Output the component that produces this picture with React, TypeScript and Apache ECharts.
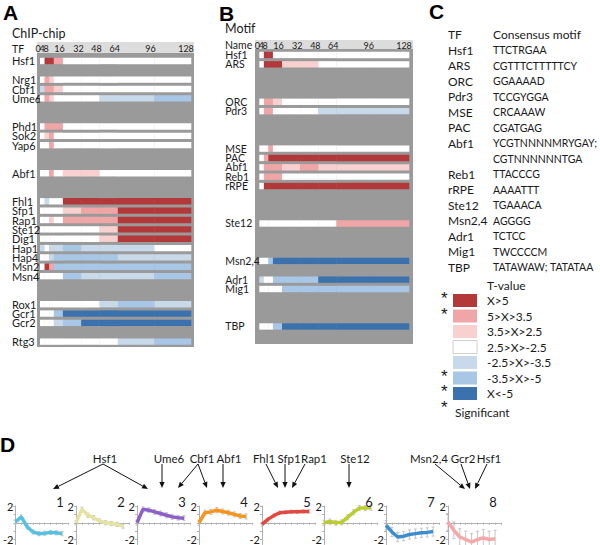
import React, { useEffect, useRef } from 'react';
import * as echarts from 'echarts';

// ---------- DATA ----------
const timePoints = [0, 4, 8, 16, 32, 48, 64, 96, 128];
const firstEdge = -4;

// Panel A (ChIP-chip) rows; '' marks an empty row
const chipRows = ['Hsf1', '', 'Nrg1', 'Cbf1', 'Ume6', '', '', 'Phd1', 'Sok2', 'Yap6', '', '', 'Abf1', '', '',
  'Fhl1', 'Sfp1', 'Rap1', 'Ste12', 'Dig1', 'Hap1', 'Hap4', 'Msn2', 'Msn4', '', '', 'Rox1', 'Gcr1', 'Gcr2', '', 'Rtg3'];
// T-value class per time point (3: X>5 ... -3: X<-5), in order of the named rows
const chipLevels = [
  [0, 3, 3, 2, 0, 0, 0, 0, 0],
  [0, 2, 1, 0, 0, 0, 0, 0, 0],
  [-1, 2, 2, 1, 0, 0, 0, 0, 0],
  [0, 2, 1, 0, 0, 0, -1, -1, -2],
  [0, 2, 2, 2, 0, 0, 0, 0, 0],
  [0, 1, 2, 0, 0, 0, 0, 0, 0],
  [0, 0, 2, 0, 0, 0, 0, 0, 0],
  [0, 0, 2, 0, 1, 1, 0, 0, 0],
  [0, -1, 0, 0, 3, 3, 3, 3, 3],
  [0, 0, 0, 0, 1, 2, 2, 3, 3],
  [0, 0, 1, 0, 2, 2, 2, 3, 3],
  [0, 0, 0, 0, 0, 0, 1, 3, 3],
  [0, 0, 0, 0, 0, 0, 1, 3, 3],
  [-1, 0, -1, -1, -2, -1, -1, -1, 0],
  [0, 0, -1, -2, -2, -2, -2, -1, -1],
  [0, 3, 2, -2, -2, -2, -2, -2, -2],
  [0, 0, 0, 0, -2, -1, -1, -1, -2],
  [0, 0, 0, 0, 0, 0, -1, -2, -1],
  [0, 0, 0, -2, -3, -3, -3, -3, -3],
  [0, 0, 0, -1, -2, -3, -3, -3, -3],
  [0, 0, 0, 0, 0, 0, 0, -1, -2],
];

// Panel B (Motif)
const motifRows = ['Hsf1', 'ARS', '', '', '', 'ORC', 'Pdr3', '', '', '', 'MSE', 'PAC', 'Abf1', 'Reb1', 'rRPE',
  '', '', '', 'Ste12', '', '', '', 'Msn2,4', '', 'Adr1', 'Mig1', '', '', '', 'TBP', ''];
const motifLevels = [
  [0, 3, 3, 0, 0, 0, 0, 0, 0],
  [0, 3, 3, 3, 1, 1, 0, 0, 0],
  [0, 2, 2, 1, 0, 0, 0, 0, 0],
  [0, 2, 2, 0, 0, 0, -1, -1, -1],
  [0, 0, 2, 0, 0, 0, 0, 0, 0],
  [0, 2, 3, 3, 3, 3, 3, 3, 3],
  [0, 2, 2, 2, 1, 2, 1, 1, 1],
  [0, 2, 2, 2, 0, 0, 0, 0, 0],
  [0, 3, 3, 3, 3, 3, 3, 3, 3],
  [0, 0, 0, 0, 0, 0, 0, 2, 2],
  [0, 0, -2, -3, -3, -3, -3, -3, -3],
  [-1, 0, 0, -2, -2, -2, -3, -3, -3],
  [0, 0, 0, 0, -2, -2, -2, -2, -2],
  [0, 0, 0, -2, -3, -3, -3, -3, -3],
];

// Panel C
const tableTF = ['Hsf1', 'ARS', 'ORC', 'Pdr3', 'MSE', 'PAC', 'Abf1', '', 'Reb1', 'rRPE', 'Ste12', 'Msn2,4', 'Adr1', 'Mig1', 'TBP'];
const tableMotif = ['TTCTRGAA', 'CGTTTCTTTTTCY', 'GGAAAAD', 'TCCGYGGA', 'CRCAAAW', 'CGATGAG', 'YCGTNNNNMRYGAY;',
  'CGTNNNNNNTGA', 'TTACCCG', 'AAAATTT', 'TGAAACA', 'AGGGG', 'TCTCC', 'TWCCCCM', 'TATAWAW; TATATAA'];
const legendLabels = ['X>5', '5>X>3.5', '3.5>X>2.5', '2.5>X>-2.5', '-2.5>X>-3.5', '-3.5>X>-5', 'X<-5'];
const legendLevels = [3, 2, 1, 0, -1, -2, -3];
const legendSignificant = [true, true, false, false, false, true, true];

// Panel D: cluster profiles (9 time points each)
const clusterNames = ['1', '2', '3', '4', '5', '6', '7', '8'];
const d1 = [0.1, 0.7, -0.5, -1.1, -1.3, -1.25, -1.15, -1.2, -1.3];
const d2 = [0.0, 1.6, 0.9, 0.6, 0.2, 0.0, -0.1, -0.2, -0.4];
const d3 = [0.0, 1.6, 1.5, 1.3, 1.1, 0.9, 0.7, 0.6, 0.55];
const d4 = [0.0, 1.2, 1.3, 1.5, 1.35, 1.2, 1.0, 0.8, 0.75];
const d5 = [-0.2, 0.4, 0.85, 1.2, 1.25, 1.3, 1.3, 1.35, 1.35];
const d6 = [0.0, 0.15, 0.0, 0.05, 0.65, 1.25, 1.75, 1.75, 1.8];
const d7 = [-0.3, -1.1, -1.7, -1.6, -1.4, -1.3, -1.2, -1.15, -1.05];
const d8 = [0.1, -0.9, -1.7, -2.0, -2.3, -2.0, -1.8, -2.0, -1.9];
const clusterErr = [0.25, 0.25, 0.3, 0.3, 0.2, 0.3, 0.55, 1.0];
const annotationLabels = ['Hsf1', 'Ume6', 'Cbf1', 'Abf1', 'Fhl1', 'Sfp1', 'Rap1', 'Ste12', 'Msn2,4', 'Gcr2', 'Hsf1'];

// ---------- STYLE / LAYOUT ----------
const FONT = 'Lato, "Open Sans", sans-serif';
const BOLD = '"Liberation Sans", Arial, sans-serif';
const TXT = '#1a1a1a';
const palette = ['#3b72ad', '#a8c6e6', '#c8d9ea', '#ffffff', '#f8d0d0', '#f0a6a6', '#b3383a'];
const clusterColors = ['#55c3df', '#e4e4a0', '#8b60c8', '#f7941e', '#e3473f', '#bccd2e', '#3a8ed0', '#f4a8a7'];
const clusterLeft = [15, 76, 137, 199, 262, 324, 386, 448];
const annotationPos = [105, 169, 202, 229, 264, 289, 314, 355, 429, 463, 489];
const headerShift = [-6.5, -7, -7.7, -3.5, -2.8, -2.9, -3.1, -4, -5];
const headerY = [48.5, 45];
const arrows = [
  [103, 464, 53, 489], [103, 464, 148, 489], [162, 464, 162, 488], [198, 464, 178, 488], [198, 464, 207, 488],
  [223, 464, 223, 488], [266, 464, 278, 488], [285, 464, 285, 488], [305, 464, 292, 488], [349, 464, 349, 488],
  [435, 464, 465, 489], [461, 464, 470, 489], [487, 464, 475, 489],
];

function heatData(rows: string[], levels: number[][]) {
  const out: number[][] = [];
  let k = 0;
  rows.forEach((name, r) => {
    if (!name) return;
    const lv = levels[k++];
    timePoints.forEach((t, i) => {
      out.push([i === 0 ? firstEdge : timePoints[i - 1], t, r, lv[i]]);
    });
  });
  return out;
}

const heatRender = (params: any, api: any) => {
  const s = api.coord([api.value(0), api.value(2)]);
  const e = api.coord([api.value(1), api.value(2)]);
  const h = api.size([0, 1])[1] * 0.68;
  return {
    type: 'rect',
    shape: { x: s[0], y: s[1] - h / 2, width: e[0] - s[0] + 0.3, height: h },
    style: { fill: palette[api.value(3) + 3] },
  };
};

const errRender = (params: any, api: any) => {
  const x = api.value(0), y = api.value(1), e = api.value(2);
  const p1 = api.coord([x, y + e]);
  const p2 = api.coord([x, y - e]);
  const st = { stroke: '#b8b8b8', lineWidth: 0.8 };
  return {
    type: 'group',
    children: [
      { type: 'line', shape: { x1: p1[0], y1: p1[1], x2: p2[0], y2: p2[1] }, style: st },
      { type: 'line', shape: { x1: p1[0] - 1.5, y1: p1[1], x2: p1[0] + 1.5, y2: p1[1] }, style: st },
      { type: 'line', shape: { x1: p2[0] - 1.5, y1: p2[1], x2: p2[0] + 1.5, y2: p2[1] }, style: st },
    ],
  };
};

function timeAxis(gridIndex: number) {
  return {
    gridIndex, type: 'value', min: firstEdge, max: 128, position: 'top',
    axisLine: { show: false }, axisTick: { show: false }, splitLine: { show: false },
    axisLabel: { show: false },
  };
}

function rowAxis(gridIndex: number, rows: string[], margin: number, size: number) {
  return {
    gridIndex, type: 'category', inverse: true, data: rows.map((_, i) => 'r' + i),
    axisLine: { show: false }, axisTick: { show: false }, splitLine: { show: false },
    axisLabel: {
      interval: 0, align: 'left', margin, fontSize: size, lineHeight: 9, fontFamily: FONT, color: TXT,
      formatter: (_v: string, i: number) => rows[i],
    },
  };
}

function txt(x: number, y: number, text: string, size: number, extra: any = {}) {
  return {
    type: 'text', x, y, z: 10,
    style: { text, fontSize: size, fontFamily: FONT, fill: TXT, align: 'left', verticalAlign: 'middle', ...extra },
  };
}

function arrow(a: number[]) {
  const [x1, y1, x2, y2] = a;
  const dx = x2 - x1, dy = y2 - y1;
  const L = Math.hypot(dx, dy);
  const ux = dx / L, uy = dy / L;
  const bx = x2 - ux * 6, by = y2 - uy * 6;
  const nx = -uy * 2.6, ny = ux * 2.6;
  return [
    { type: 'line', z: 10, shape: { x1, y1, x2: bx, y2: by }, style: { stroke: '#111', lineWidth: 1 } },
    { type: 'polygon', z: 10, shape: { points: [[x2, y2], [bx + nx, by + ny], [bx - nx, by - ny]] }, style: { fill: '#111' } },
  ];
}

function buildGraphics() {
  const graphics: any[] = [
    // backgrounds of heat panels
    { type: 'rect', z: 0, shape: { x: 37, y: 53, width: 157, height: 294 }, style: { fill: '#9a9a9a' } },
    { type: 'rect', z: 0, shape: { x: 37, y: 42, width: 157, height: 11 }, style: { fill: '#dcdcdc' } },
    { type: 'rect', z: 0, shape: { x: 255, y: 49, width: 158, height: 295 }, style: { fill: '#9a9a9a' } },
    { type: 'rect', z: 0, shape: { x: 255, y: 40, width: 158, height: 9 }, style: { fill: '#dcdcdc' } },
    // panel letters
    txt(3, 2, 'A', 21, { fontFamily: BOLD, fontWeight: 'bold', verticalAlign: 'top', fill: '#000' }),
    txt(219, 3, 'B', 21, { fontFamily: BOLD, fontWeight: 'bold', verticalAlign: 'top', fill: '#000' }),
    txt(429, 1, 'C', 21, { fontFamily: BOLD, fontWeight: 'bold', verticalAlign: 'top', fill: '#000' }),
    txt(0, 434, 'D', 21, { fontFamily: BOLD, fontWeight: 'bold', verticalAlign: 'top', fill: '#000' }),
    txt(12, 33, 'ChIP-chip', 12.5),
    txt(225, 28, 'Motif', 12.5),
    txt(12, 49, 'TF', 10.5),
    txt(225, 45, 'Name', 10.5),
    // table C
    txt(448, 34.5, 'TF', 12),
    txt(493, 34.5, 'Consensus motif', 12),
    txt(487, 285, 'T-value', 12),
  ];
  tableTF.forEach((t, i) => {
    const y = 50 + i * 15.5;
    if (t) graphics.push(txt(448, y, t, 12));
    graphics.push(txt(493, y, tableMotif[i], 10.5));
  });
  legendLabels.forEach((l, i) => {
    const y = 300.5 + i * 15.5;
    graphics.push({
      type: 'rect', z: 10, shape: { x: 453, y: y - 6.5, width: 24, height: 13 },
      style: { fill: palette[legendLevels[i] + 3], stroke: legendLevels[i] === 0 ? '#d0d0d0' : null, lineWidth: 1 },
    });
    graphics.push(txt(487, y, l, 12));
    if (legendSignificant[i]) graphics.push(txt(441, y - 2, '*', 17, { fontFamily: BOLD }));
  });
  graphics.push(txt(441, 407, '*', 17, { fontFamily: BOLD }));
  graphics.push(txt(455, 412, 'Significant', 12));
  // panel D labels and arrows
  clusterNames.forEach((n, i) => graphics.push(txt(clusterLeft[i] + 45, 502, n, 13, { align: 'center' })));
  annotationLabels.forEach((l, i) => graphics.push(txt(annotationPos[i], 458, l, 11.5, { align: 'center' })));
  arrows.forEach((a) => graphics.push(...arrow(a)));
  return graphics;
}

function buildOption() {
  const clusters = [d1, d2, d3, d4, d5, d6, d7, d8];
  const grids: any[] = [
    { left: 40, top: 56.3, width: 151, height: 290 },
    { left: 259.3, top: 50.3, width: 149.7, height: 290.2 },
  ];
  const xAxes: any[] = [timeAxis(0), timeAxis(1)];
  const yAxes: any[] = [rowAxis(0, chipRows, 28, 11), rowAxis(1, motifRows, 34, 10.5)];
  const series: any[] = [
    { type: 'custom', xAxisIndex: 0, yAxisIndex: 0, renderItem: heatRender, encode: { x: [0, 1], y: 2 }, data: heatData(chipRows, chipLevels), silent: true },
    { type: 'custom', xAxisIndex: 1, yAxisIndex: 1, renderItem: heatRender, encode: { x: [0, 1], y: 2 }, data: heatData(motifRows, motifLevels), silent: true },
  ];

  clusters.forEach((d, i) => {
    const gi = i + 2;
    grids.push({ left: clusterLeft[i], top: 506, width: 53, height: 39 });
    xAxes.push({
      gridIndex: gi, type: 'value', min: 0, max: 9, interval: 1,
      axisLine: { onZero: true, lineStyle: { color: '#b0b0b0', width: 1 } },
      axisTick: { show: true, length: 2, lineStyle: { color: '#b0b0b0' } },
      axisLabel: { show: false }, splitLine: { show: false },
    });
    yAxes.push({
      gridIndex: gi, type: 'value', min: -2.6, max: 2,
      axisLine: { show: true, lineStyle: { color: '#b0b0b0', width: 1 } },
      axisTick: { show: true, customValues: [-2, -1, 0, 1, 2], length: 2, lineStyle: { color: '#b0b0b0' } },
      axisLabel: { customValues: [-2, 2], fontSize: 11, fontFamily: FONT, color: TXT, margin: 2 },
      splitLine: { show: false },
    });
    series.push({
      type: 'custom', xAxisIndex: gi, yAxisIndex: gi, renderItem: errRender, z: 2, silent: true,
      encode: { x: 0, y: 1 },
      data: d.map((v, j) => [j, v, clusterErr[i]]),
    });
    series.push({
      type: 'line', xAxisIndex: gi, yAxisIndex: gi, z: 3, silent: true,
      data: d.map((v, j) => [j, v]), showSymbol: false, symbol: 'none',
      lineStyle: { width: 3.5, color: clusterColors[i] }, itemStyle: { color: clusterColors[i] },
    });
  });

  return {
    animation: false,
    backgroundColor: '#ffffff',
    grid: grids,
    xAxis: xAxes,
    yAxis: yAxes,
    series,
    graphic: buildGraphics(),
  };
}

export default function App() {
  const ref = useRef<HTMLDivElement>(null);
  useEffect(() => {
    document.body.style.margin = '0';
    const chart = echarts.init(ref.current!, null, { renderer: 'svg' });
    chart.setOption(buildOption() as any);
    // time-point header labels, placed with the time axes' own scales
    const graphics = buildGraphics();
    [0, 1].forEach((ax) => {
      timePoints.forEach((t, i) => {
        const px = chart.convertToPixel({ xAxisIndex: ax } as any, t) as unknown as number;
        graphics.push(txt(px + headerShift[i], headerY[ax], String(t), 9, { align: 'center' }));
      });
    });
    chart.setOption({ graphic: graphics } as any);
    return () => chart.dispose();
  }, []);
  return <div ref={ref} style={{ width: 600, height: 545 }} />;
}
